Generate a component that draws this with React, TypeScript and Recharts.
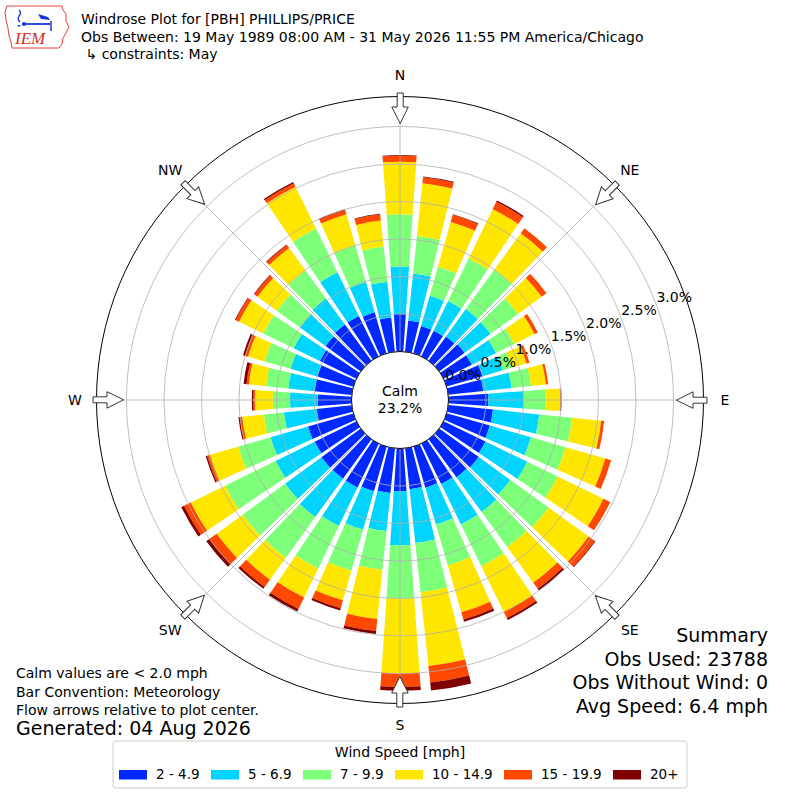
import React from 'react';
import { RadialBarChart, RadialBar, PolarAngleAxis, PolarRadiusAxis, PolarGrid } from 'recharts';

// direction bins (degrees from north, meteorological convention)
const directions = [
  0, 10, 20, 30, 40, 50, 60, 70, 80, 90, 100, 110, 120, 130, 140, 150, 160, 170,
  180, 190, 200, 210, 220, 230, 240, 250, 260, 270, 280, 290, 300, 310, 320, 330, 340, 350,
];

// frequency (%) per speed class, one value per direction
const s2to5 = [0.50, 0.42, 0.38, 0.38, 0.40, 0.42, 0.42, 0.50, 0.47, 0.53, 0.60, 0.60, 0.62, 0.65, 0.63, 0.60, 0.57, 0.55,
  0.57, 0.60, 0.62, 0.65, 0.65, 0.65, 0.62, 0.63, 0.47, 0.45, 0.50, 0.50, 0.54, 0.58, 0.60, 0.60, 0.57, 0.46];
const s5to7 = [0.63, 0.63, 0.42, 0.44, 0.45, 0.43, 0.36, 0.28, 0.38, 0.47, 0.62, 0.57, 0.62, 0.52, 0.57, 0.60, 0.51, 0.72,
  0.72, 0.51, 0.53, 0.57, 0.63, 0.60, 0.58, 0.52, 0.44, 0.37, 0.35, 0.37, 0.39, 0.42, 0.43, 0.65, 0.42, 0.48];
const s7to10 = [0.70, 0.50, 0.40, 0.63, 0.65, 0.45, 0.27, 0.13, 0.26, 0.29, 0.44, 0.48, 0.45, 0.63, 0.58, 0.62, 0.57, 0.66,
  0.71, 0.52, 0.57, 0.63, 0.67, 0.70, 0.75, 0.45, 0.27, 0.23, 0.30, 0.36, 0.45, 0.38, 0.46, 0.65, 0.51, 0.47];
const s10to15 = [0.70, 0.71, 0.62, 0.73, 0.60, 0.39, 0.30, 0.20, 0.20, 0.20, 0.39, 0.55, 0.68, 0.66, 0.59, 0.68, 0.65, 0.99,
  1.00, 0.66, 0.41, 0.43, 0.36, 0.43, 0.51, 0.39, 0.29, 0.24, 0.23, 0.23, 0.36, 0.32, 0.37, 0.62, 0.43, 0.35];
const s15to20 = [0.08, 0.08, 0.10, 0.11, 0.08, 0.08, 0.05, 0.04, 0.03, 0.02, 0.04, 0.08, 0.10, 0.10, 0.10, 0.09, 0.10, 0.22,
  0.18, 0.16, 0.11, 0.17, 0.12, 0.12, 0.10, 0.04, 0.03, 0.02, 0.03, 0.04, 0.05, 0.05, 0.05, 0.05, 0.06, 0.08];
const s20plus = [0.01, 0.01, 0.01, 0.02, 0.00, 0.00, 0.00, 0.00, 0.00, 0.00, 0.00, 0.00, 0.00, 0.01, 0.03, 0.03, 0.03, 0.11,
  0.05, 0.04, 0.03, 0.04, 0.03, 0.05, 0.04, 0.02, 0.02, 0.02, 0.04, 0.03, 0.01, 0.01, 0.01, 0.02, 0.01, 0.01];

const speedBins = ['2 - 4.9', '5 - 6.9', '7 - 9.9', '10 - 14.9', '15 - 19.9', '20+'];
const binKeys = ['s2', 's5', 's7', 's10', 's15', 's20'];
const binColors = ['#0028ff', '#00d4ff', '#7dff7a', '#ffe600', '#ff4800', '#800000'];
const radialTicks = [0, 0.5, 1.0, 1.5, 2.0, 2.5, 3.0];
const compassLabels = ['N', 'NE', 'E', 'SE', 'S', 'SW', 'W', 'NW'];

const titleLines = [
  'Windrose Plot for [PBH] PHILLIPS/PRICE',
  'Obs Between: 19 May 1989 08:00 AM - 31 May 2026 11:55 PM America/Chicago',
  ' \u21b3 constraints: May',
];
const noteLines = ['Calm values are < 2.0 mph', 'Bar Convention: Meteorology', 'Flow arrows relative to plot center.'];
const summaryLines = ['Summary', 'Obs Used: 23788', 'Obs Without Wind: 0', 'Avg Speed: 6.4 mph'];
const calmPct = '23.2%';

const chartData = directions.map((dir, i) => ({
  dir,
  s2: s2to5[i],
  s5: s5to7[i],
  s7: s7to10[i],
  s10: s10to15[i],
  s15: s15to20[i],
  s20: s20plus[i],
}));

const FONT = '"DejaVu Sans", sans-serif';
const CX = 400;
const CY = 400;
const INNER = 48.5;
const OUTER = 303.5;
const R_MAX = 3.4;
const LABEL_ANGLE = 20.2;

const RadiusTick = (props: any) => {
  const { x, y, payload } = props;
  return (
    <text
      x={x + 17.5}
      y={y - 8.3}
      textAnchor="middle"
      dominantBaseline="central"
      fontSize={14}
      fontFamily={FONT}
      fill="#000"
    >
      {Number(payload.value).toFixed(1)}%
    </text>
  );
};

// north at top, clockwise; band of category 0 centred on north
const chartProps = {
  width: 800,
  height: 800,
  data: chartData,
  cx: CX,
  cy: CY,
  innerRadius: INNER,
  outerRadius: OUTER,
  startAngle: 85,
  endAngle: -275,
  layout: 'centric' as const,
  margin: { top: 0, right: 0, bottom: 0, left: 0 },
  barCategoryGap: '11%',
};

const Arrow = ({ rot }: { rot: number }) => (
  <polygon
    points="397.2,93 403.2,93 403.2,107 408.3,107 400.2,123.5 391.8,107 397.2,107"
    fill="#fff"
    stroke="#333"
    strokeWidth={1}
    transform={`rotate(${rot} ${CX} ${CY})`}
  />
);

const legendSwatchX = [119, 211, 303, 395, 504, 613];

export default function App() {
  return (
    <div style={{ position: 'absolute', left: 0, top: 0, width: 800, height: 800, background: '#fff', fontFamily: FONT }}>
      <div style={{ position: 'absolute', left: 0, top: 0 }}>
        <RadialBarChart {...chartProps}>
          <PolarAngleAxis type="category" dataKey="dir" tick={false} tickLine={false} axisLine={false} />
          <PolarRadiusAxis type="number" domain={[0, R_MAX]} tick={false} axisLine={false} />
          {binKeys.map((k, i) => (
            <RadialBar key={k} dataKey={k} stackId="w" fill={binColors[i]} isAnimationActive={false} />
          ))}
        </RadialBarChart>
      </div>
      {/* second layer: grid and radius labels drawn over the bars */}
      <div style={{ position: 'absolute', left: 0, top: 0 }}>
        <RadialBarChart {...chartProps}>
          <PolarGrid
            gridType="circle"
            polarAngles={[0, 45, 90, 135, 180, 225, 270, 315]}
            stroke="#b0b0b0"
            strokeWidth={0.8}
          />
          <PolarAngleAxis
            type="category"
            dataKey="dir"
            tick={false}
            tickLine={false}
            axisLineType="circle"
            axisLine={{ stroke: '#000', strokeWidth: 1 }}
          />
          <PolarRadiusAxis
            type="number"
            domain={[0, R_MAX]}
            ticks={radialTicks}
            angle={LABEL_ANGLE}
            axisLine={false}
            tick={RadiusTick}
          />
          {binKeys.map((k) => (
            <RadialBar key={k} dataKey={k} stackId="w" fill="none" isAnimationActive={false} />
          ))}
        </RadialBarChart>
      </div>
      <svg width={800} height={800} style={{ position: 'absolute', left: 0, top: 0, pointerEvents: 'none' }}>
        {/* calm circle */}
        <circle cx={CX} cy={CY} r={INNER} fill="#fff" stroke="#000" strokeWidth={1} />
        <text x={CX} y={391} textAnchor="middle" dominantBaseline="central" fontSize={14} fontFamily={FONT}>Calm</text>
        <text x={CX} y={408} textAnchor="middle" dominantBaseline="central" fontSize={14} fontFamily={FONT}>{calmPct}</text>

        {/* flow arrows and compass labels */}
        {compassLabels.map((lab, i) => {
          const a = (i * 45 * Math.PI) / 180;
          return (
            <g key={lab}>
              <Arrow rot={i * 45} />
              <text
                x={CX + 325 * Math.sin(a)}
                y={CY - 325 * Math.cos(a)}
                textAnchor="middle"
                dominantBaseline="central"
                fontSize={14}
                fontFamily={FONT}
              >
                {lab}
              </text>
            </g>
          );
        })}

        {/* logo */}
        <g>
          <polyline
            points="7,6 62,6 63,10 66,14 66,21 69,27 66,33 63,38 62,44 59,48 12,48 11,42 9,36 8,28 6,20 5,12 7,6"
            fill="none"
            stroke="#e8403a"
            strokeWidth={1}
          />
          <path d="M19,10 Q22,13 19,16 Q17,19 20,22" fill="none" stroke="#1a36d8" strokeWidth={1.3} />
          <line x1={22} y1={24} x2={50} y2={24} stroke="#1a36d8" strokeWidth={1.8} />
          <circle cx={24} cy={24} r={2} fill="#1a36d8" />
          <path d="M19,27 L17,25 L21,25 Z" fill="#1a36d8" />
          <path d="M38,14 L48,17 L50,20 L41,19 Z" fill="#1a36d8" />
          <line x1={51} y1={21} x2={51} y2={31} stroke="#1a36d8" strokeWidth={1.5} />
          <text x={15} y={44} fontSize={17} fontStyle="italic" fontFamily='"Liberation Serif", serif' fill="#d8302a">IEM</text>
        </g>

        {/* title */}
        {titleLines.map((t, i) => (
          <text key={i} x={81} y={24 + i * 17.5} fontSize={14} fontFamily={FONT} style={{ whiteSpace: 'pre' }}>{t}</text>
        ))}

        {/* notes */}
        {noteLines.map((t, i) => (
          <text key={i} x={16} y={678 + i * 18.5} fontSize={14} fontFamily={FONT}>{t}</text>
        ))}
        <text x={16} y={735} fontSize={19} fontFamily={FONT}>Generated: 04 Aug 2026</text>

        {/* summary */}
        {summaryLines.map((t, i) => (
          <text key={i} x={768} y={642 + i * 23.5} fontSize={19} textAnchor="end" fontFamily={FONT}>{t}</text>
        ))}

        {/* legend */}
        <rect x={113} y={741} width={574} height={47} rx={3} fill="#fff" stroke="#cccccc" strokeWidth={1} />
        <text x={400} y={757} textAnchor="middle" fontSize={14} fontFamily={FONT}>Wind Speed [mph]</text>
        {speedBins.map((b, i) => (
          <g key={b}>
            <rect x={legendSwatchX[i]} y={770} width={28} height={9.5} fill={binColors[i]} />
            <text x={legendSwatchX[i] + 37} y={779} fontSize={13.5} fontFamily={FONT}>{b}</text>
          </g>
        ))}
      </svg>
    </div>
  );
}
